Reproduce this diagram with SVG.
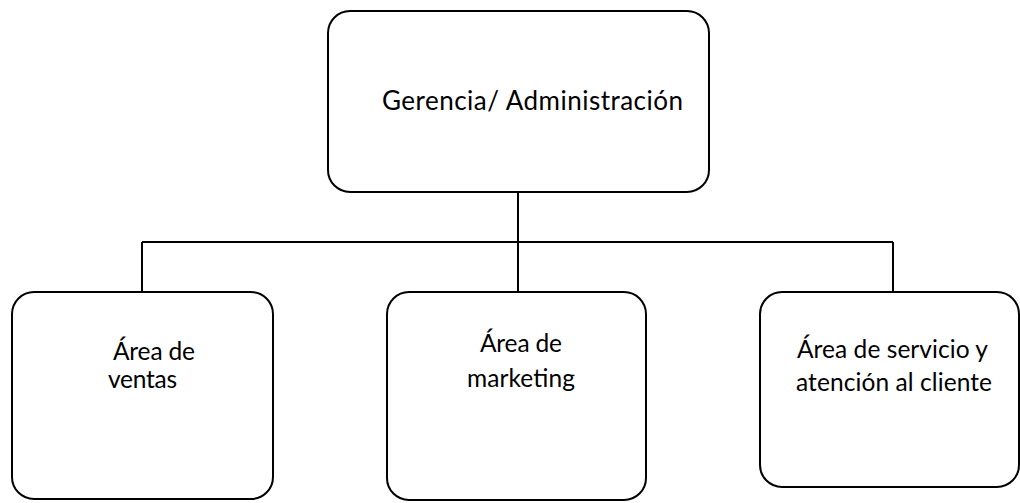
<svg xmlns="http://www.w3.org/2000/svg" width="1020" height="503" viewBox="0 0 1020 503">
<style>
.box{fill:#fff;stroke:#000;stroke-width:2}
.ln{fill:none;stroke:#000;stroke-width:2}
text{font-family:Lato,"Open Sans",sans-serif;font-size:24.5px;fill:#000}
.big{font-size:26px}
</style>
<rect width="1020" height="503" fill="#fff"/>
<g id="connectors">
<path class="ln" d="M518 192V242M142 242H893M142 242V292M518 242V292M893 242V292"/>
</g>
<g id="gerencia">
<rect class="box" x="328" y="11" width="381" height="181" rx="22"/>
<text class="big" x="382" y="110" textLength="301">Gerencia/ Administración</text>
</g>
<g id="ventas">
<rect class="box" x="12" y="292" width="261" height="207" rx="22"/>
<text x="113" y="360" textLength="82">Área de</text>
<text x="108" y="388" textLength="69">ventas</text>
</g>
<g id="marketing">
<rect class="box" x="387" y="292" width="259" height="208" rx="22"/>
<text x="480" y="352" textLength="82">Área de</text>
<text x="467" y="387" textLength="108">marketing</text>
</g>
<g id="servicio">
<rect class="box" x="760" y="292" width="259" height="195" rx="22"/>
<text x="797" y="358" textLength="191">Área de servicio y</text>
<text x="796" y="391" textLength="196">atención al cliente</text>
</g>
</svg>
